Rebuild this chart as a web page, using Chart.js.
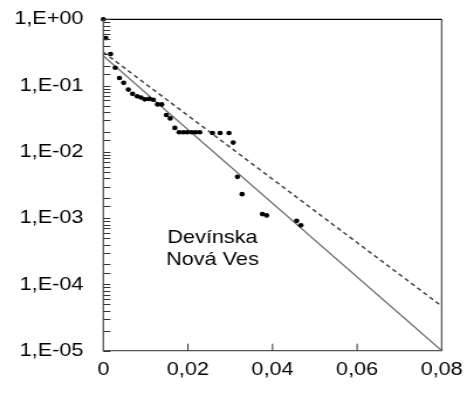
<!DOCTYPE html>
<html>
<head>
<meta charset="utf-8">
<script src="https://cdn.jsdelivr.net/npm/chart.js@4"></script>
<style>
  body { margin: 0; background: #fff; }
</style>
</head>
<body>
<!-- drawn narrower and stretched by css, the original picture is widened horizontally -->
<canvas id="myChart" width="399" height="394" style="width:467px;height:394px;display:block"></canvas>
<script>
// measured points
const obsX = [0, 0.0006, 0.0017, 0.0028, 0.0038, 0.0048, 0.0059, 0.0069, 0.0080, 0.0089,
  0.0098, 0.0108, 0.0118, 0.0128, 0.0138, 0.0149, 0.0158, 0.0169, 0.0179, 0.0189,
  0.0198, 0.0209, 0.0218, 0.0228, 0.0258, 0.0276, 0.0297, 0.0307, 0.0317, 0.0328,
  0.0376, 0.0386, 0.0457, 0.0467];
const obsY = [1.0, 0.52, 0.30, 0.186, 0.13, 0.11, 0.087, 0.075, 0.069, 0.066,
  0.062, 0.063, 0.061, 0.052, 0.052, 0.036, 0.032, 0.023, 0.0198, 0.0198,
  0.0198, 0.0198, 0.0198, 0.0198, 0.0193, 0.0193, 0.0193, 0.0138, 0.0042, 0.0023,
  0.00115, 0.0011, 0.00091, 0.00078];

// fitted lines (two ends each)
const fitX = [0, 0.08];
const solidY = [0.28, 0.00001];
const dashedY = [0.32, 0.000047];

const xTicks = [0, 0.02, 0.04, 0.06, 0.08];
const siteName = ['Devínska', 'Nová Ves'];

const FONT = 'Liberation Sans, Arial, sans-serif';

function pairs(xs, ys) {
  return xs.map((x, i) => ({x: x, y: ys[i]}));
}

function expLabel(v) {
  const e = Math.log10(v);
  const r = Math.round(e);
  if (Math.abs(e - r) > 1e-6) return '';
  const a = Math.abs(r);
  return '1,E' + (r >= 0 ? '+' : '-') + (a < 10 ? '0' : '') + a;
}

// frame, inner tick marks and the site name
const framePlugin = {
  id: 'frame',
  afterDraw(chart) {
    const ctx = chart.ctx;
    const a = chart.chartArea;
    const xs = chart.scales.x, ys = chart.scales.y;
    ctx.save();
    ctx.lineWidth = 1.3;
    ctx.strokeStyle = '#555';
    ctx.beginPath();
    ctx.moveTo(a.left, a.top);
    ctx.lineTo(a.left, a.bottom);
    ctx.lineTo(a.right, a.bottom);
    ctx.lineTo(a.right, a.top);
    ctx.stroke();
    ctx.strokeStyle = '#000';
    ctx.beginPath();
    ctx.moveTo(a.left, a.top);
    ctx.lineTo(a.right, a.top);
    ctx.stroke();

    ctx.lineWidth = 1;
    ctx.strokeStyle = '#333';
    ctx.beginPath();
    ys.ticks.forEach(t => {
      const py = Math.round(ys.getPixelForValue(t.value)) + 0.5;
      ctx.moveTo(a.left, py);
      ctx.lineTo(a.left + 6, py);
    });
    xs.ticks.forEach(t => {
      if (t.value <= 0 || t.value >= 0.08) return;
      const px = xs.getPixelForValue(t.value);
      ctx.moveTo(px, a.bottom);
      ctx.lineTo(px, a.bottom - 7);
    });
    ctx.stroke();

    ctx.fillStyle = '#000';
    ctx.font = '18.5px ' + FONT;
    ctx.textAlign = 'center';
    ctx.textBaseline = 'middle';
    const cx = xs.getPixelForValue(0.0258);
    const cy = ys.getPixelForValue(Math.pow(10, -3.30));
    siteName.forEach((s, i) => ctx.fillText(s, cx, cy + i * 22));
    ctx.restore();
  }
};

const chart = new Chart(document.getElementById('myChart'), {
  type: 'scatter',
  data: {
    datasets: [
      {
        data: pairs(obsX, obsY),
        pointRadius: 2.3,
        pointBackgroundColor: '#000',
        pointBorderWidth: 0,
        showLine: false,
        clip: false,
      },
      {
        data: pairs(fitX, solidY),
        showLine: true,
        pointRadius: 0,
        borderColor: '#666',
        borderWidth: 1.2,
      },
      {
        data: pairs(fitX, dashedY),
        showLine: true,
        pointRadius: 0,
        borderColor: '#444',
        borderWidth: 1.5,
        borderDash: [4, 3],
      },
    ],
  },
  options: {
    responsive: false,
    animation: false,
    layout: {padding: {top: 19.3, right: 21.6, left: 0, bottom: 0}},
    plugins: {legend: {display: false}, tooltip: {enabled: false}},
    scales: {
      x: {
        type: 'linear',
        min: 0,
        max: 0.08,
        afterBuildTicks: (s) => { s.ticks = xTicks.map(v => ({value: v})); },
        afterFit: (s) => { s.height = 43.3; s.paddingLeft = 0; s.paddingRight = 0; },
        grid: {display: false, drawTicks: false},
        border: {display: false},
        ticks: {
          padding: 8,
          color: '#000',
          font: {family: FONT, size: 18.5},
          maxRotation: 0,
          autoSkip: false,
          callback: (v) => v === 0 ? '0' : v.toFixed(2).replace('.', ','),
        },
      },
      y: {
        type: 'logarithmic',
        min: 0.00001,
        max: 1,
        afterFit: (s) => { s.width = 88.3; s.paddingTop = 0; s.paddingBottom = 0; },
        grid: {display: false, drawTicks: false},
        border: {display: false},
        ticks: {
          padding: 17,
          color: '#000',
          font: {family: FONT, size: 18.5},
          autoSkip: false,
          callback: (v) => expLabel(v),
        },
      },
    },
  },
  plugins: [framePlugin],
});
</script>
</body>
</html>
